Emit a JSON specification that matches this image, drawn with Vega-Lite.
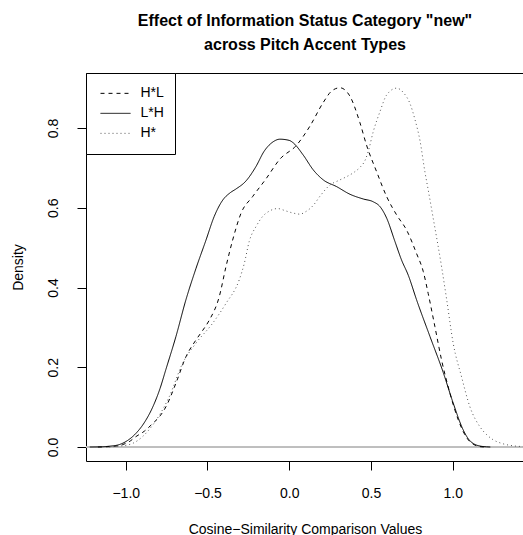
{
  "$schema": "https://vega.github.io/schema/vega-lite/v6.json",
  "autosize": {"type": "none"},
  "padding": {"left": 86, "top": 73, "right": 0, "bottom": 74},
  "width": 438,
  "height": 388,
  "background": "white",
  "title": {
    "text": ["Effect of Information Status Category \"new\"", "across Pitch Accent Types"],
    "fontSize": 16,
    "fontWeight": "bold",
    "font": "Liberation Sans",
    "color": "black",
    "lineHeight": 24,
    "anchor": "middle",
    "frame": "group",
    "baseline": "bottom",
    "offset": 3.5
  },
  "config": {
    "font": "Liberation Sans",
    "view": {"stroke": "black", "strokeWidth": 1},
    "axis": {
      "grid": false,
      "domain": false,
      "tickColor": "black",
      "tickWidth": 1,
      "tickSize": 9,
      "labelColor": "black",
      "labelFontSize": 14,
      "labelFont": "Liberation Sans",
      "titleColor": "black",
      "titleFontSize": 14,
      "titleFont": "Liberation Sans",
      "titleFontWeight": "normal",
      "labelFlush": false,
      "labelOverlap": false
    },
    "legend": {
      "orient": "top-left",
      "offset": 0,
      "padding": 10.5,
      "strokeColor": "black",
      "fillColor": "white",
      "symbolType": "stroke",
      "symbolSize": 900,
      "symbolStrokeWidth": 1,
      "labelFontSize": 14,
      "labelFont": "Liberation Sans",
      "labelColor": "black",
      "labelOffset": 9.5,
      "symbolOffset": 3.5,
      "clipHeight": 19.7,
      "rowPadding": 0
    }
  },
  "data": {
    "values": [
      {"type": "L*H", "value": -1.22, "density": 0},
      {"type": "L*H", "value": -1.15, "density": 0.0005},
      {"type": "L*H", "value": -1.10, "density": 0.002},
      {"type": "L*H", "value": -1.04, "density": 0.006},
      {"type": "L*H", "value": -0.99, "density": 0.016},
      {"type": "L*H", "value": -0.938, "density": 0.034},
      {"type": "L*H", "value": -0.885, "density": 0.062},
      {"type": "L*H", "value": -0.835, "density": 0.10},
      {"type": "L*H", "value": -0.79, "density": 0.147},
      {"type": "L*H", "value": -0.754, "density": 0.195},
      {"type": "L*H", "value": -0.693, "density": 0.277},
      {"type": "L*H", "value": -0.632, "density": 0.369},
      {"type": "L*H", "value": -0.571, "density": 0.447},
      {"type": "L*H", "value": -0.509, "density": 0.519},
      {"type": "L*H", "value": -0.459, "density": 0.578},
      {"type": "L*H", "value": -0.407, "density": 0.619},
      {"type": "L*H", "value": -0.36, "density": 0.638},
      {"type": "L*H", "value": -0.326, "density": 0.647},
      {"type": "L*H", "value": -0.265, "density": 0.667},
      {"type": "L*H", "value": -0.204, "density": 0.703},
      {"type": "L*H", "value": -0.153, "density": 0.742},
      {"type": "L*H", "value": -0.10, "density": 0.765},
      {"type": "L*H", "value": -0.057, "density": 0.772},
      {"type": "L*H", "value": 0.0, "density": 0.769},
      {"type": "L*H", "value": 0.024, "density": 0.763},
      {"type": "L*H", "value": 0.086, "density": 0.732},
      {"type": "L*H", "value": 0.147, "density": 0.695},
      {"type": "L*H", "value": 0.208, "density": 0.670},
      {"type": "L*H", "value": 0.290, "density": 0.653},
      {"type": "L*H", "value": 0.371, "density": 0.634},
      {"type": "L*H", "value": 0.453, "density": 0.622},
      {"type": "L*H", "value": 0.514, "density": 0.615},
      {"type": "L*H", "value": 0.555, "density": 0.603},
      {"type": "L*H", "value": 0.596, "density": 0.574},
      {"type": "L*H", "value": 0.647, "density": 0.515},
      {"type": "L*H", "value": 0.687, "density": 0.469},
      {"type": "L*H", "value": 0.728, "density": 0.431},
      {"type": "L*H", "value": 0.779, "density": 0.369},
      {"type": "L*H", "value": 0.861, "density": 0.277},
      {"type": "L*H", "value": 0.942, "density": 0.187},
      {"type": "L*H", "value": 1.003, "density": 0.110},
      {"type": "L*H", "value": 1.064, "density": 0.043},
      {"type": "L*H", "value": 1.10, "density": 0.018},
      {"type": "L*H", "value": 1.125, "density": 0.009},
      {"type": "L*H", "value": 1.16, "density": 0.003},
      {"type": "L*H", "value": 1.207, "density": 0.0005},
      {"type": "L*H", "value": 1.23, "density": 0},

      {"type": "H*L", "value": -1.17, "density": 0},
      {"type": "H*L", "value": -1.10, "density": 0.001},
      {"type": "H*L", "value": -1.05, "density": 0.003},
      {"type": "H*L", "value": -1.019, "density": 0.006},
      {"type": "H*L", "value": -0.98, "density": 0.013},
      {"type": "H*L", "value": -0.938, "density": 0.026},
      {"type": "H*L", "value": -0.885, "density": 0.040},
      {"type": "H*L", "value": -0.835, "density": 0.059},
      {"type": "H*L", "value": -0.79, "density": 0.078},
      {"type": "H*L", "value": -0.754, "density": 0.101},
      {"type": "H*L", "value": -0.693, "density": 0.16},
      {"type": "H*L", "value": -0.632, "density": 0.226},
      {"type": "H*L", "value": -0.571, "density": 0.268},
      {"type": "H*L", "value": -0.53, "density": 0.292},
      {"type": "H*L", "value": -0.489, "density": 0.318},
      {"type": "H*L", "value": -0.428, "density": 0.377},
      {"type": "H*L", "value": -0.387, "density": 0.452},
      {"type": "H*L", "value": -0.346, "density": 0.519},
      {"type": "H*L", "value": -0.295, "density": 0.586},
      {"type": "H*L", "value": -0.224, "density": 0.628},
      {"type": "H*L", "value": -0.143, "density": 0.672},
      {"type": "H*L", "value": -0.057, "density": 0.722},
      {"type": "H*L", "value": 0.045, "density": 0.757},
      {"type": "H*L", "value": 0.127, "density": 0.805},
      {"type": "H*L", "value": 0.208, "density": 0.864},
      {"type": "H*L", "value": 0.26, "density": 0.893},
      {"type": "H*L", "value": 0.31, "density": 0.901},
      {"type": "H*L", "value": 0.371, "density": 0.880},
      {"type": "H*L", "value": 0.432, "density": 0.814},
      {"type": "H*L", "value": 0.473, "density": 0.757},
      {"type": "H*L", "value": 0.535, "density": 0.690},
      {"type": "H*L", "value": 0.596, "density": 0.628},
      {"type": "H*L", "value": 0.657, "density": 0.582},
      {"type": "H*L", "value": 0.718, "density": 0.544},
      {"type": "H*L", "value": 0.779, "density": 0.485},
      {"type": "H*L", "value": 0.820, "density": 0.440},
      {"type": "H*L", "value": 0.850, "density": 0.385},
      {"type": "H*L", "value": 0.891, "density": 0.302},
      {"type": "H*L", "value": 0.932, "density": 0.218},
      {"type": "H*L", "value": 0.983, "density": 0.135},
      {"type": "H*L", "value": 1.034, "density": 0.068},
      {"type": "H*L", "value": 1.065, "density": 0.038},
      {"type": "H*L", "value": 1.095, "density": 0.018},
      {"type": "H*L", "value": 1.13, "density": 0.006},
      {"type": "H*L", "value": 1.166, "density": 0.001},
      {"type": "H*L", "value": 1.19, "density": 0},

      {"type": "H*", "value": -1.10, "density": 0},
      {"type": "H*", "value": -1.05, "density": 0.002},
      {"type": "H*", "value": -0.99, "density": 0.005},
      {"type": "H*", "value": -0.958, "density": 0.009},
      {"type": "H*", "value": -0.90, "density": 0.025},
      {"type": "H*", "value": -0.835, "density": 0.055},
      {"type": "H*", "value": -0.734, "density": 0.126},
      {"type": "H*", "value": -0.652, "density": 0.21},
      {"type": "H*", "value": -0.571, "density": 0.26},
      {"type": "H*", "value": -0.469, "density": 0.31},
      {"type": "H*", "value": -0.387, "density": 0.36},
      {"type": "H*", "value": -0.306, "density": 0.419},
      {"type": "H*", "value": -0.275, "density": 0.46},
      {"type": "H*", "value": -0.245, "density": 0.515},
      {"type": "H*", "value": -0.20, "density": 0.555},
      {"type": "H*", "value": -0.163, "density": 0.578},
      {"type": "H*", "value": -0.12, "density": 0.592},
      {"type": "H*", "value": -0.071, "density": 0.598},
      {"type": "H*", "value": -0.02, "density": 0.592},
      {"type": "H*", "value": 0.031, "density": 0.586},
      {"type": "H*", "value": 0.065, "density": 0.584},
      {"type": "H*", "value": 0.10, "density": 0.59},
      {"type": "H*", "value": 0.147, "density": 0.606},
      {"type": "H*", "value": 0.19, "density": 0.63},
      {"type": "H*", "value": 0.249, "density": 0.657},
      {"type": "H*", "value": 0.30, "density": 0.668},
      {"type": "H*", "value": 0.351, "density": 0.678},
      {"type": "H*", "value": 0.40, "density": 0.69},
      {"type": "H*", "value": 0.432, "density": 0.701},
      {"type": "H*", "value": 0.465, "density": 0.72},
      {"type": "H*", "value": 0.483, "density": 0.741},
      {"type": "H*", "value": 0.514, "density": 0.791},
      {"type": "H*", "value": 0.555, "density": 0.841},
      {"type": "H*", "value": 0.596, "density": 0.883},
      {"type": "H*", "value": 0.657, "density": 0.90},
      {"type": "H*", "value": 0.70, "density": 0.888},
      {"type": "H*", "value": 0.738, "density": 0.862},
      {"type": "H*", "value": 0.77, "density": 0.82},
      {"type": "H*", "value": 0.800, "density": 0.768},
      {"type": "H*", "value": 0.830, "density": 0.69},
      {"type": "H*", "value": 0.850, "density": 0.645},
      {"type": "H*", "value": 0.881, "density": 0.573},
      {"type": "H*", "value": 0.932, "density": 0.452},
      {"type": "H*", "value": 0.963, "density": 0.37},
      {"type": "H*", "value": 1.003, "density": 0.26},
      {"type": "H*", "value": 1.054, "density": 0.176},
      {"type": "H*", "value": 1.105, "density": 0.101},
      {"type": "H*", "value": 1.166, "density": 0.051},
      {"type": "H*", "value": 1.21, "density": 0.03},
      {"type": "H*", "value": 1.248, "density": 0.018},
      {"type": "H*", "value": 1.30, "density": 0.009},
      {"type": "H*", "value": 1.37, "density": 0.003},
      {"type": "H*", "value": 1.43, "density": 0.001}
    ]
  },
  "layer": [
    {
      "mark": {"type": "rule", "color": "#bebebe", "strokeWidth": 1},
      "encoding": {"y": {"datum": 0}}
    },
    {
      "mark": {"type": "line", "interpolate": "monotone", "strokeWidth": 1, "clip": true},
      "encoding": {
        "x": {
          "field": "value",
          "type": "quantitative",
          "scale": {"domain": [-1.243, 1.436], "nice": false, "zero": false},
          "axis": {
            "values": [-1, -0.5, 0, 0.5, 1],
            "format": ".1f",
            "labelPadding": 16,
            "title": "Cosine\u2212Similarity Comparison Values",
            "titleY": 72,
            "titleBaseline": "alphabetic"
          }
        },
        "y": {
          "field": "density",
          "type": "quantitative",
          "scale": {"domain": [-0.0351, 0.938], "nice": false, "zero": false},
          "axis": {
            "values": [0, 0.2, 0.4, 0.6, 0.8],
            "format": ".1f",
            "labelAngle": 270,
            "labelAlign": "center",
            "labelBaseline": "alphabetic",
            "labelPadding": 19.5,
            "title": "Density",
            "titleAngle": 270,
            "titleAlign": "center",
            "titleBaseline": "alphabetic",
            "titleX": -64,
            "titleY": 194
          }
        },
        "strokeDash": {
          "field": "type",
          "type": "nominal",
          "scale": {"domain": ["H*L", "L*H", "H*"], "range": [[4, 4], [1, 0], [1, 3]]},
          "legend": {"title": null}
        },
        "color": {
          "field": "type",
          "type": "nominal",
          "scale": {"domain": ["H*L", "L*H", "H*"], "range": ["black", "black", "#555555"]},
          "legend": {"title": null}
        },
        "detail": {"field": "type"}
      }
    }
  ]
}
